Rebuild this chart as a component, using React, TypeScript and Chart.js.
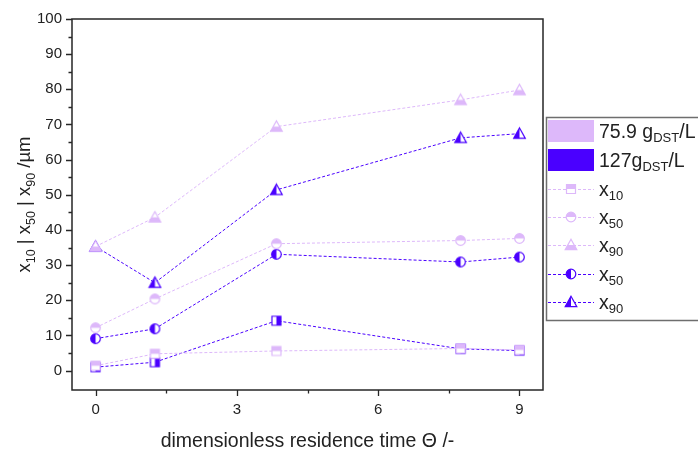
import React, { useEffect, useRef } from 'react';
import { Chart, registerables } from 'chart.js';
Chart.register(...registerables);

const thetaValues = [0, 1.26, 3.84, 7.75, 9];
const low_x10 = [1.4, 4.8, 5.6, 6.3, 5.9];
const low_x50 = [12.2, 20.4, 36.1, 37.0, 37.6];
const low_x90 = [35.3, 43.6, 69.4, 77.0, 79.8];
const high_x10 = [1.0, 2.4, 14.2, 6.2, 5.7];
const high_x50 = [9.1, 11.9, 33.1, 30.9, 32.3];
const high_x90 = [35.3, 25.0, 51.4, 66.2, 67.4];
const xTicks = [0, 3, 6, 9];
const xMinorTicks = [1.5, 4.5, 7.5];
const yTicks = [0, 10, 20, 30, 40, 50, 60, 70, 80, 90, 100];
const yMinorTicks = [5, 15, 25, 35, 45, 55, 65, 75, 85, 95];

const LIGHT = '#DDB8FA';
const DARK = '#4A00FF';
const FONT = "'Liberation Sans', Arial, sans-serif";

type Shape = 'square' | 'circle' | 'triangle';
type Half = 'top' | 'bottom' | 'left' | 'right';

function shapePath(ctx: CanvasRenderingContext2D, shape: Shape, cx: number, cy: number) {
  ctx.beginPath();
  if (shape === 'square') {
    ctx.rect(cx - 4.5, cy - 4.5, 9, 9);
  } else if (shape === 'circle') {
    ctx.arc(cx, cy, 4.8, 0, Math.PI * 2);
  } else {
    ctx.moveTo(cx, cy - 5.8);
    ctx.lineTo(cx + 5.8, cy + 4.6);
    ctx.lineTo(cx - 5.8, cy + 4.6);
    ctx.closePath();
  }
}

function drawMarker(ctx: CanvasRenderingContext2D, shape: Shape, half: Half, color: string, cx: number, cy: number) {
  ctx.save();
  shapePath(ctx, shape, cx, cy);
  ctx.fillStyle = '#ffffff';
  ctx.fill();
  ctx.save();
  ctx.beginPath();
  if (half === 'top') ctx.rect(cx - 10, cy - 10, 20, 10);
  if (half === 'bottom') ctx.rect(cx - 10, cy, 20, 10);
  if (half === 'left') ctx.rect(cx - 10, cy - 10, 10, 20);
  if (half === 'right') ctx.rect(cx, cy - 10, 10, 20);
  ctx.clip();
  shapePath(ctx, shape, cx, cy);
  ctx.fillStyle = color;
  ctx.fill();
  ctx.restore();
  shapePath(ctx, shape, cx, cy);
  ctx.strokeStyle = color;
  ctx.lineWidth = 1.2;
  ctx.stroke();
  ctx.restore();
}

function makeMarker(shape: Shape, half: Half, color: string): HTMLCanvasElement {
  const c = document.createElement('canvas');
  c.width = 15;
  c.height = 15;
  const ctx = c.getContext('2d')!;
  drawMarker(ctx, shape, half, color, 7.5, 7.5);
  return c;
}

type Part = [string, boolean];

function richWidth(ctx: CanvasRenderingContext2D, parts: Part[], main: number, sub: number) {
  let w = 0;
  for (const [t, s] of parts) {
    ctx.font = `${s ? sub : main}px ${FONT}`;
    w += ctx.measureText(t).width;
  }
  return w;
}

function drawRich(ctx: CanvasRenderingContext2D, parts: Part[], x: number, y: number, main: number, sub: number) {
  let cx = x;
  ctx.textBaseline = 'alphabetic';
  ctx.textAlign = 'left';
  for (const [t, s] of parts) {
    ctx.font = `${s ? sub : main}px ${FONT}`;
    ctx.fillText(t, cx, s ? y + 4.5 : y);
    cx += ctx.measureText(t).width;
  }
}

const legendEntries: { kind: 'rect' | 'line'; color: string; shape?: Shape; half?: Half; parts: Part[] }[] = [
  { kind: 'rect', color: LIGHT, parts: [['75.9 g', false], ['DST', true], ['/L', false]] },
  { kind: 'rect', color: DARK, parts: [['127g', false], ['DST', true], ['/L', false]] },
  { kind: 'line', color: LIGHT, shape: 'square', half: 'top', parts: [['x', false], ['10', true]] },
  { kind: 'line', color: LIGHT, shape: 'circle', half: 'top', parts: [['x', false], ['50', true]] },
  { kind: 'line', color: LIGHT, shape: 'triangle', half: 'bottom', parts: [['x', false], ['90', true]] },
  { kind: 'line', color: DARK, shape: 'circle', half: 'left', parts: [['x', false], ['50', true]] },
  { kind: 'line', color: DARK, shape: 'triangle', half: 'left', parts: [['x', false], ['90', true]] },
];

const decorPlugin = {
  id: 'decor',
  afterDraw(chart: any) {
    const ctx: CanvasRenderingContext2D = chart.ctx;
    const { left, right, top, bottom } = chart.chartArea;
    const xs = chart.scales.x;
    const ys = chart.scales.y;
    ctx.save();
    // frame
    ctx.strokeStyle = '#262626';
    ctx.lineWidth = 1.5;
    ctx.strokeRect(left, top, right - left, bottom - top);
    // ticks
    ctx.lineWidth = 1.3;
    ctx.beginPath();
    for (const v of yTicks) {
      const p = Math.round(ys.getPixelForValue(v)) + 0.5;
      ctx.moveTo(left - 6, p);
      ctx.lineTo(left, p);
    }
    for (const v of yMinorTicks) {
      const p = Math.round(ys.getPixelForValue(v)) + 0.5;
      ctx.moveTo(left - 3.5, p);
      ctx.lineTo(left, p);
    }
    for (const v of xTicks) {
      const p = Math.round(xs.getPixelForValue(v)) + 0.5;
      ctx.moveTo(p, bottom);
      ctx.lineTo(p, bottom + 6);
    }
    for (const v of xMinorTicks) {
      const p = Math.round(xs.getPixelForValue(v)) + 0.5;
      ctx.moveTo(p, bottom);
      ctx.lineTo(p, bottom + 3.5);
    }
    ctx.stroke();

    // axis titles
    ctx.fillStyle = '#222';
    ctx.font = `19.5px ${FONT}`;
    ctx.textAlign = 'center';
    ctx.textBaseline = 'alphabetic';
    ctx.fillText('dimensionless residence time \u0398 /-', (left + right) / 2, 447);

    const yParts: Part[] = [['x', false], ['10', true], [' | x', false], ['50', true], [' | x', false], ['90', true], [' /\u00b5m', false]];
    ctx.save();
    ctx.translate(30, (top + bottom) / 2);
    ctx.rotate(-Math.PI / 2);
    const w = richWidth(ctx, yParts, 18.5, 12.5);
    drawRich(ctx, yParts, -w / 2, 0, 18.5, 12.5);
    ctx.restore();

    // legend
    ctx.strokeStyle = '#6e6e6e';
    ctx.lineWidth = 1.5;
    ctx.strokeRect(546.5, 117.5, 200, 203);
    const rowY = [131, 160, 189, 217, 245, 274, 302];
    legendEntries.forEach((e, i) => {
      const y = rowY[i];
      if (e.kind === 'rect') {
        ctx.fillStyle = e.color;
        ctx.fillRect(548, y - 11, 46, 22);
      } else {
        ctx.save();
        ctx.strokeStyle = e.color;
        ctx.lineWidth = 1;
        ctx.setLineDash([3, 2]);
        ctx.beginPath();
        ctx.moveTo(548, y + 0.5);
        ctx.lineTo(594, y + 0.5);
        ctx.stroke();
        ctx.restore();
        drawMarker(ctx, e.shape!, e.half!, e.color, 571, y);
      }
      ctx.fillStyle = '#222';
      drawRich(ctx, e.parts, 599, y + 6.5, 19.5, 13);
    });
    ctx.restore();
  },
};

function toPoints(vals: number[]) {
  return thetaValues.map((x, i) => ({ x, y: vals[i] }));
}

export default function App() {
  const ref = useRef<HTMLCanvasElement>(null);
  useEffect(() => {
    document.body.style.margin = '0';
    const mk = (label: string, vals: number[], color: string, shape: Shape, half: Half) => ({
      label,
      data: toPoints(vals),
      borderColor: color,
      backgroundColor: color,
      borderWidth: 1,
      borderDash: [3, 2],
      pointStyle: makeMarker(shape, half, color),
      pointRadius: 5,
      showLine: true,
      tension: 0,
    });
    const chart = new Chart(ref.current!, {
      type: 'scatter',
      data: {
        datasets: [
          mk('x10 75.9', low_x10, LIGHT, 'square', 'top'),
          mk('x50 75.9', low_x50, LIGHT, 'circle', 'top'),
          mk('x90 75.9', low_x90, LIGHT, 'triangle', 'bottom'),
          mk('x10 127', high_x10, DARK, 'square', 'right'),
          mk('x50 127', high_x50, DARK, 'circle', 'left'),
          mk('x90 127', high_x90, DARK, 'triangle', 'left'),
        ] as any,
      },
      options: {
        animation: false,
        responsive: false,
        layout: { padding: { left: 0, right: 155, top: 10, bottom: 0 } },
        plugins: { legend: { display: false }, tooltip: { enabled: false } },
        scales: {
          x: {
            type: 'linear',
            min: -0.5,
            max: 9.5,
            grid: { display: false, drawTicks: false },
            border: { display: false },
            ticks: { font: { size: 15, family: FONT }, color: '#222', padding: 11 },
            afterBuildTicks: (s: any) => { s.ticks = xTicks.map((v) => ({ value: v })); },
            afterFit: (s: any) => { s.height = 65; },
          },
          y: {
            type: 'linear',
            min: -5.5,
            max: 100,
            grid: { display: false, drawTicks: false },
            border: { display: false },
            ticks: { font: { size: 15, family: FONT }, color: '#222', padding: 10 },
            afterBuildTicks: (s: any) => { s.ticks = yTicks.map((v) => ({ value: v })); },
            afterFit: (s: any) => { s.width = 72; },
          },
        },
      },
      plugins: [decorPlugin],
    });
    return () => chart.destroy();
  }, []);
  return (
    <div style={{ position: 'absolute', left: 0, top: 0, width: 698, height: 455 }}>
      <canvas ref={ref} width={698} height={455} style={{ width: 698, height: 455, display: 'block' }} />
    </div>
  );
}
